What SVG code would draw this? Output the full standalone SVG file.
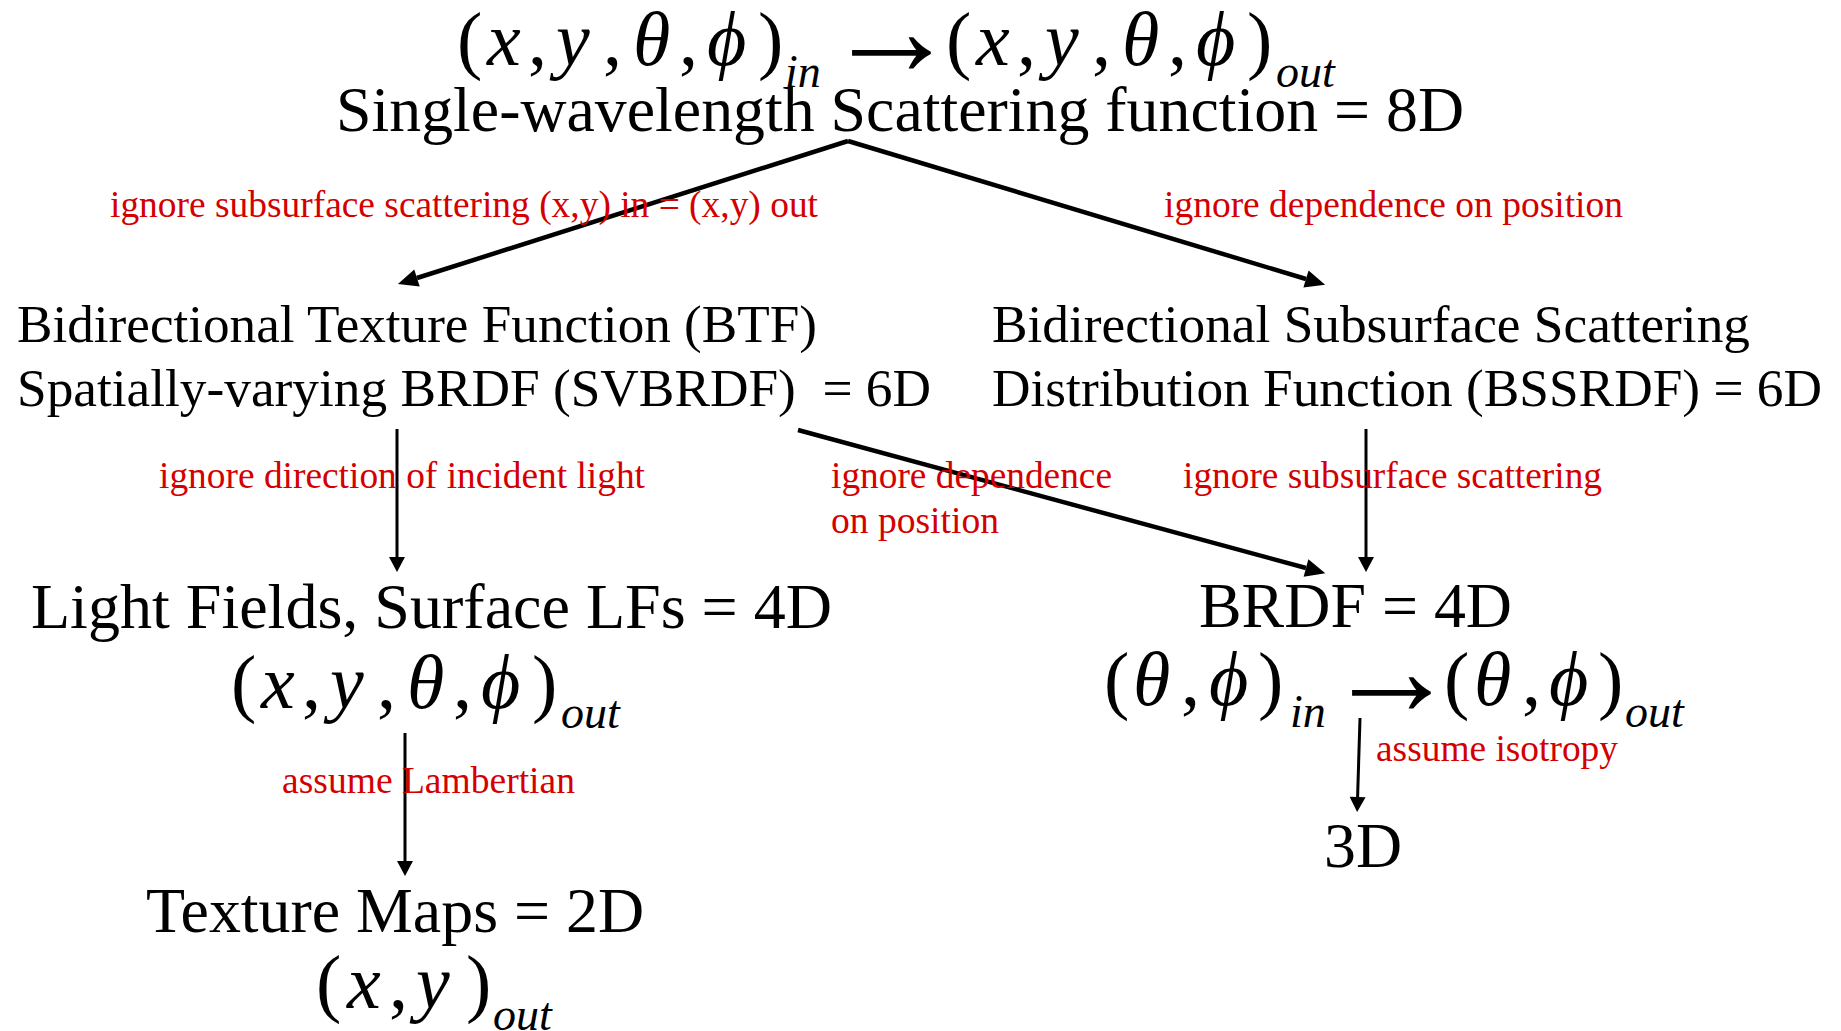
<svg xmlns="http://www.w3.org/2000/svg" width="1841" height="1031" viewBox="0 0 1841 1031">
<style>
  text { font-family: "Liberation Serif", "Times New Roman", serif; fill: #000; }
  .big { font-size: 64px; }
  .mid { font-size: 53px; }
  .red { font-size: 37px; fill: #d40000; }
  .m { font-size: 76px; }
  .i { font-style: italic; }
  .sub { font-size: 46px; font-style: italic; }
  .arr { font-size: 133px; }
  .thick { stroke: #000; stroke-width: 4.5; fill: none; marker-end: url(#ahBig); }
  .thin { stroke: #000; stroke-width: 3; fill: none; marker-end: url(#ahSmall); }
</style>
<defs>
  <marker id="ahBig" markerUnits="userSpaceOnUse" markerWidth="22" markerHeight="20" viewBox="0 -10 22 20" refX="0" refY="0" orient="auto" overflow="visible">
    <path d="M0,-9 L20,0 L0,9 Z" fill="#000"/>
  </marker>
  <marker id="ahSmall" markerUnits="userSpaceOnUse" markerWidth="16" markerHeight="18" viewBox="0 -9 16 18" refX="0" refY="0" orient="auto" overflow="visible">
    <path d="M0,-8 L15,0 L0,8 Z" fill="#000"/>
  </marker>
</defs>
<rect width="1841" height="1031" fill="#fff"/>

<g id="connectors">
  <g id="e-top-btf">
    <line class="thick" x1="848" y1="141" x2="417" y2="278"/>
    <text class="red" x="110" y="217" textLength="708" lengthAdjust="spacingAndGlyphs">ignore subsurface scattering (x,y) in = (x,y) out</text>
  </g>
  <g id="e-top-bssrdf">
    <line class="thick" x1="848" y1="141" x2="1306" y2="279"/>
    <text class="red" x="1164" y="217" textLength="459" lengthAdjust="spacingAndGlyphs">ignore dependence on position</text>
  </g>
  <g id="e-btf-lf">
    <line class="thin" x1="397" y1="429" x2="397" y2="557"/>
    <text class="red" x="159" y="488" textLength="486" lengthAdjust="spacingAndGlyphs">ignore direction of incident light</text>
  </g>
  <g id="e-btf-brdf">
    <line class="thick" x1="798" y1="430" x2="1306" y2="568"/>
    <text class="red" x="831" y="488" textLength="281" lengthAdjust="spacingAndGlyphs">ignore dependence</text>
    <text class="red" x="831" y="533" textLength="168" lengthAdjust="spacingAndGlyphs">on position</text>
  </g>
  <g id="e-bssrdf-brdf">
    <line class="thin" x1="1366" y1="429" x2="1366" y2="557"/>
    <text class="red" x="1183" y="488" textLength="419" lengthAdjust="spacingAndGlyphs">ignore subsurface scattering</text>
  </g>
  <g id="e-lf-tex">
    <line class="thin" x1="405" y1="733" x2="405" y2="861"/>
    <text class="red" x="282" y="793" textLength="293" lengthAdjust="spacingAndGlyphs">assume Lambertian</text>
  </g>
  <g id="e-brdf-3d">
    <line class="thin" x1="1360" y1="718" x2="1357.6" y2="797"/>
    <text class="red" x="1376" y="761" textLength="242" lengthAdjust="spacingAndGlyphs">assume isotropy</text>
  </g>
</g>

<g id="node-8d">
  <text class="m" y="65"><tspan x="457">(</tspan><tspan class="i" x="487">x</tspan><tspan x="528">,</tspan><tspan class="i" x="556">y</tspan><tspan x="603">,</tspan><tspan class="i" x="633">θ</tspan><tspan x="679">,</tspan><tspan class="i" x="707">ϕ</tspan><tspan x="758">)</tspan></text>
  <text class="sub" x="785" y="87">in</text>
  <text class="arr" x="825" y="75">→</text>
  <text class="m" y="65"><tspan x="946">(</tspan><tspan class="i" x="976">x</tspan><tspan x="1017">,</tspan><tspan class="i" x="1045">y</tspan><tspan x="1092">,</tspan><tspan class="i" x="1122">θ</tspan><tspan x="1168">,</tspan><tspan class="i" x="1196">ϕ</tspan><tspan x="1247">)</tspan></text>
  <text class="sub" x="1276" y="87">out</text>
  <text class="big" x="336" y="131" textLength="1128" lengthAdjust="spacingAndGlyphs">Single-wavelength Scattering function = 8D</text>
</g>

<g id="node-btf">
  <text class="mid" x="17" y="342" textLength="800" lengthAdjust="spacingAndGlyphs">Bidirectional Texture Function (BTF)</text>
  <text class="mid" x="17" y="406" textLength="914" lengthAdjust="spacingAndGlyphs" style="white-space:pre">Spatially-varying BRDF (SVBRDF)  = 6D</text>
</g>

<g id="node-bssrdf">
  <text class="mid" x="992" y="342" textLength="758" lengthAdjust="spacingAndGlyphs">Bidirectional Subsurface Scattering</text>
  <text class="mid" x="992" y="406" textLength="830" lengthAdjust="spacingAndGlyphs">Distribution Function (BSSRDF) = 6D</text>
</g>

<g id="node-lf">
  <text class="big" x="31" y="628" textLength="801" lengthAdjust="spacingAndGlyphs">Light Fields, Surface LFs = 4D</text>
  <text class="m" y="708"><tspan x="231">(</tspan><tspan class="i" x="261">x</tspan><tspan x="302">,</tspan><tspan class="i" x="330">y</tspan><tspan x="377">,</tspan><tspan class="i" x="407">θ</tspan><tspan x="453">,</tspan><tspan class="i" x="481">ϕ</tspan><tspan x="532">)</tspan></text>
  <text class="sub" x="561" y="728">out</text>
</g>

<g id="node-brdf">
  <text class="big" x="1199" y="627" textLength="313" lengthAdjust="spacingAndGlyphs">BRDF = 4D</text>
  <text class="m" y="705"><tspan x="1104">(</tspan><tspan class="i" x="1133">θ</tspan><tspan x="1181">,</tspan><tspan class="i" x="1209">ϕ</tspan><tspan x="1258">)</tspan></text>
  <text class="sub" x="1290" y="727">in</text>
  <text class="arr" x="1325" y="715">→</text>
  <text class="m" y="705"><tspan x="1444">(</tspan><tspan class="i" x="1474">θ</tspan><tspan x="1522">,</tspan><tspan class="i" x="1549">ϕ</tspan><tspan x="1598">)</tspan></text>
  <text class="sub" x="1625" y="727">out</text>
</g>

<g id="node-tex">
  <text class="big" x="146" y="932" textLength="498" lengthAdjust="spacingAndGlyphs">Texture Maps = 2D</text>
  <text class="m" y="1008"><tspan x="316">(</tspan><tspan class="i" x="347">x</tspan><tspan x="389">,</tspan><tspan class="i" x="416">y</tspan><tspan x="466">)</tspan></text>
  <text class="sub" x="493" y="1030">out</text>
</g>

<g id="node-3d">
  <text class="big" x="1324" y="867" textLength="78" lengthAdjust="spacingAndGlyphs">3D</text>
</g>
</svg>
